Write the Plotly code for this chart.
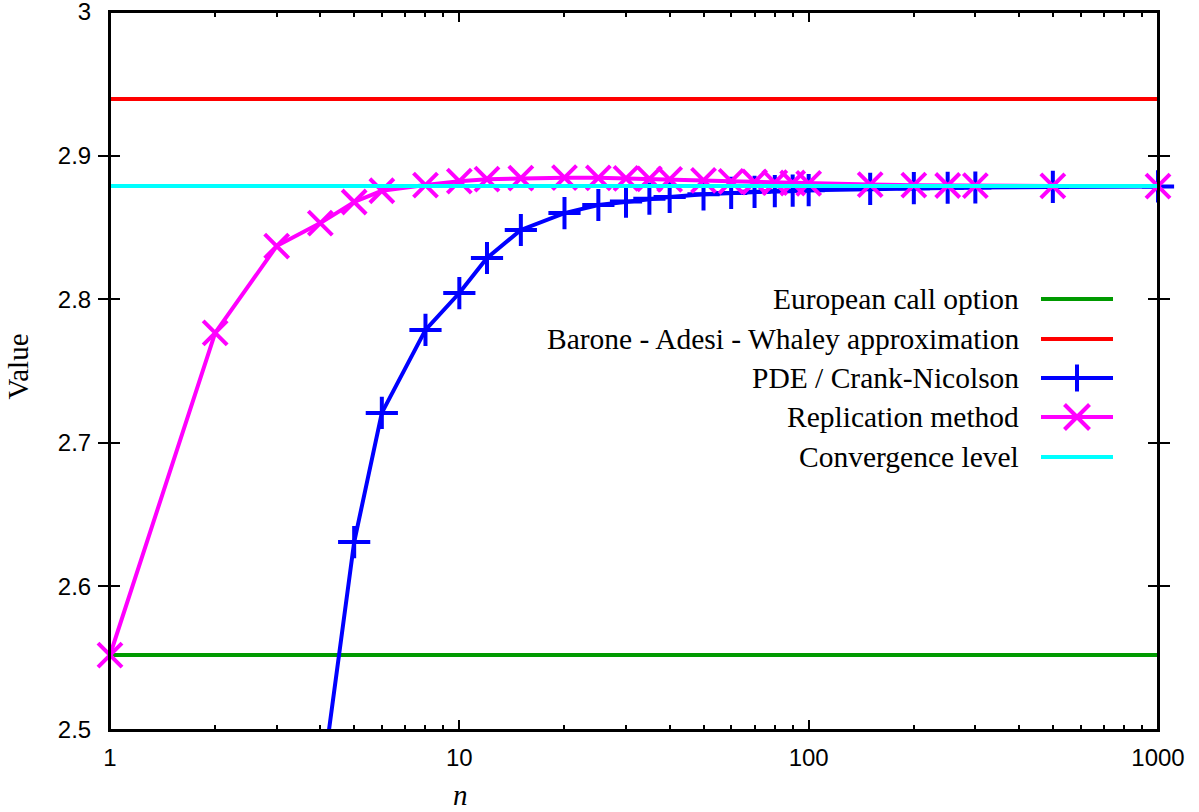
import plotly.graph_objects as go

# ---------------- data ----------------
n_min, n_max = 1, 1000
european_value = 2.5522
baw_value = 2.9394
convergence_value = 2.8788

n_pde = [4, 5, 6, 8, 10, 12, 15, 20, 25, 30, 35, 40, 50, 60, 70, 80, 90, 100,
         150, 200, 250, 300, 500, 1000]
pde_values = [2.455, 2.6309, 2.7208, 2.7786, 2.8043, 2.8287, 2.8482, 2.8600,
              2.8656, 2.8680, 2.8700, 2.8712, 2.8730, 2.8740, 2.8748, 2.8752,
              2.8756, 2.8759, 2.8768, 2.8773, 2.8776, 2.8778, 2.8782, 2.8785]

n_rep = [1, 2, 3, 4, 5, 6, 8, 10, 12, 15, 20, 25, 30, 35, 40, 50, 60, 70, 80,
         90, 100, 150, 200, 250, 300, 500, 1000]
rep_values = [2.5522, 2.7765, 2.8370, 2.8530, 2.8677, 2.8755, 2.8795, 2.8822,
              2.8836, 2.8843, 2.8846, 2.8845, 2.8842, 2.8838, 2.8834, 2.8827,
              2.8821, 2.8816, 2.8812, 2.8809, 2.8806, 2.8798, 2.8794, 2.8792,
              2.8791, 2.8789, 2.8788]

x_tickvals = [1, 10, 100, 1000]
x_ticktext = ["1", "10", "100", "1000"]
x_minor = [2, 3, 4, 5, 6, 7, 8, 9, 20, 30, 40, 50, 60, 70, 80, 90,
           200, 300, 400, 500, 600, 700, 800, 900]
y_tickvals = [2.5, 2.6, 2.7, 2.8, 2.9, 3.0]
y_ticktext = ["2.5", "2.6", "2.7", "2.8", "2.9", "3"]
y_min, y_max = 2.5, 3.0

series_names = ["European call option", "Barone - Adesi - Whaley approximation",
                "PDE / Crank-Nicolson", "Replication method", "Convergence level"]

# ---------------- style ----------------
GREEN = "#009a00"
RED = "#ff0000"
BLUE = "#0000ff"
MAGENTA = "#ff00ff"
CYAN = "#00ffff"
LW = 4
W, H = 1199, 812
L, R, T, B = 110, 41, 12, 82
PW, PH = W - L - R, H - T - B

def px(xp):
    return (xp - L) / PW

def py(yp):
    return (H - B - yp) / PH

fig = go.Figure()

fig.add_trace(go.Scatter(x=[n_min, n_max], y=[european_value] * 2, mode="lines",
                         line=dict(color=GREEN, width=LW), showlegend=False))
fig.add_trace(go.Scatter(x=[n_min, n_max], y=[baw_value] * 2, mode="lines",
                         line=dict(color=RED, width=LW), showlegend=False))
fig.add_trace(go.Scatter(x=n_pde, y=pde_values, mode="lines",
                         line=dict(color=BLUE, width=LW), showlegend=False))
in_range = [(n, v) for n, v in zip(n_pde, pde_values) if y_min <= v <= y_max]
fig.add_trace(go.Scatter(x=[p[0] for p in in_range], y=[p[1] for p in in_range],
                         mode="markers", cliponaxis=False,
                         marker=dict(symbol="cross-thin", size=23, color=BLUE,
                                     line=dict(color=BLUE, width=4)),
                         showlegend=False))
fig.add_trace(go.Scatter(x=n_rep, y=rep_values, mode="lines+markers", cliponaxis=False,
                         line=dict(color=MAGENTA, width=LW),
                         marker=dict(symbol="x-thin", size=24, color=MAGENTA,
                                     line=dict(color=MAGENTA, width=4)),
                         showlegend=False))
fig.add_trace(go.Scatter(x=[n_min, n_max], y=[convergence_value] * 2, mode="lines",
                         line=dict(color=CYAN, width=LW), showlegend=False))
# invisible traces that carry the tick-only overlay axes (minor ticks, top ticks)
for ax in ("x2", "x3"):
    fig.add_trace(go.Scatter(x=[n_min, n_max], y=[y_min, y_min], xaxis=ax, mode="markers",
                             marker=dict(opacity=0), showlegend=False, hoverinfo="skip"))

# ---------------- custom legend (text left, sample right) ----------------
rows_y = [299, 339, 378, 417, 457]
colors = [GREEN, RED, BLUE, MAGENTA, CYAN]
kinds = [None, None, "plus", "x", None]
shapes = [dict(type="rect", xref="paper", yref="paper", x0=0, x1=1, y0=0, y1=1,
               line=dict(color="black", width=2), layer="above")]
annotations = []
for name, ry, col, kind in zip(series_names, rows_y, colors, kinds):
    annotations.append(dict(text=name, x=px(1021), y=py(ry), xref="paper", yref="paper",
                            xanchor="right", yanchor="middle", showarrow=False,
                            font=dict(family="Liberation Serif", size=29.5, color="black")))
    shapes.append(dict(type="line", xref="paper", yref="paper",
                       x0=px(1041), x1=px(1113), y0=py(ry), y1=py(ry),
                       line=dict(color=col, width=LW)))
    cx = 1077
    if kind == "plus":
        shapes.append(dict(type="line", xref="paper", yref="paper",
                           x0=px(cx), x1=px(cx), y0=py(ry - 13.5), y1=py(ry + 13.5),
                           line=dict(color=col, width=4)))
    elif kind == "x":
        for s in (1, -1):
            shapes.append(dict(type="line", xref="paper", yref="paper",
                               x0=px(cx - 12.5), x1=px(cx + 12.5),
                               y0=py(ry - 12.5 * s), y1=py(ry + 12.5 * s),
                               line=dict(color=col, width=4)))

annotations.append(dict(text="Value", x=px(17.5), y=py(367), xref="paper", yref="paper",
                        textangle=-90, xanchor="center", yanchor="middle", showarrow=False,
                        font=dict(family="Liberation Serif", size=29, color="black")))
annotations.append(dict(text="<i>n</i>", x=px(460), y=py(795), xref="paper", yref="paper",
                        xanchor="center", yanchor="middle", showarrow=False,
                        font=dict(family="Liberation Serif", size=29, color="black")))

tickstyle = dict(ticks="inside", tickcolor="black", tickwidth=2,
                 showgrid=False, zeroline=False, automargin=False)
tickfont = dict(family="Liberation Sans", size=24, color="black")

fig.update_layout(
    width=W, height=H,
    margin=dict(l=L, r=R, t=T, b=B, pad=0),
    paper_bgcolor="white", plot_bgcolor="white",
    showlegend=False,
    shapes=shapes, annotations=annotations,
    xaxis=dict(type="log", range=[0, 3], tickmode="array", tickvals=x_tickvals,
               ticktext=x_ticktext, ticklabelstandoff=5, ticklen=10, tickfont=tickfont,
               showline=True, linecolor="black", linewidth=2, mirror="allticks",
               ticklabeloverflow="allow", **tickstyle),
    # minor ticks, bottom
    xaxis2=dict(type="log", range=[0, 3], overlaying="x", anchor="y", side="bottom",
                tickmode="array", tickvals=x_minor, showticklabels=False, ticklen=5,
                showline=False, mirror=False, **tickstyle),
    # minor ticks, top
    xaxis3=dict(type="log", range=[0, 3], overlaying="x", anchor="y", side="top",
                tickmode="array", tickvals=x_minor, showticklabels=False, ticklen=5,
                showline=False, mirror=False, **tickstyle),
    yaxis=dict(range=[y_min, y_max], tickmode="array", tickvals=y_tickvals,
               ticktext=y_ticktext, ticklabelstandoff=12, ticklen=10, tickfont=tickfont,
               showline=True, linecolor="black", linewidth=2, mirror="allticks",
               ticklabeloverflow="allow", **tickstyle),
)

fig.write_html("out.html", config={"displayModeBar": False})
